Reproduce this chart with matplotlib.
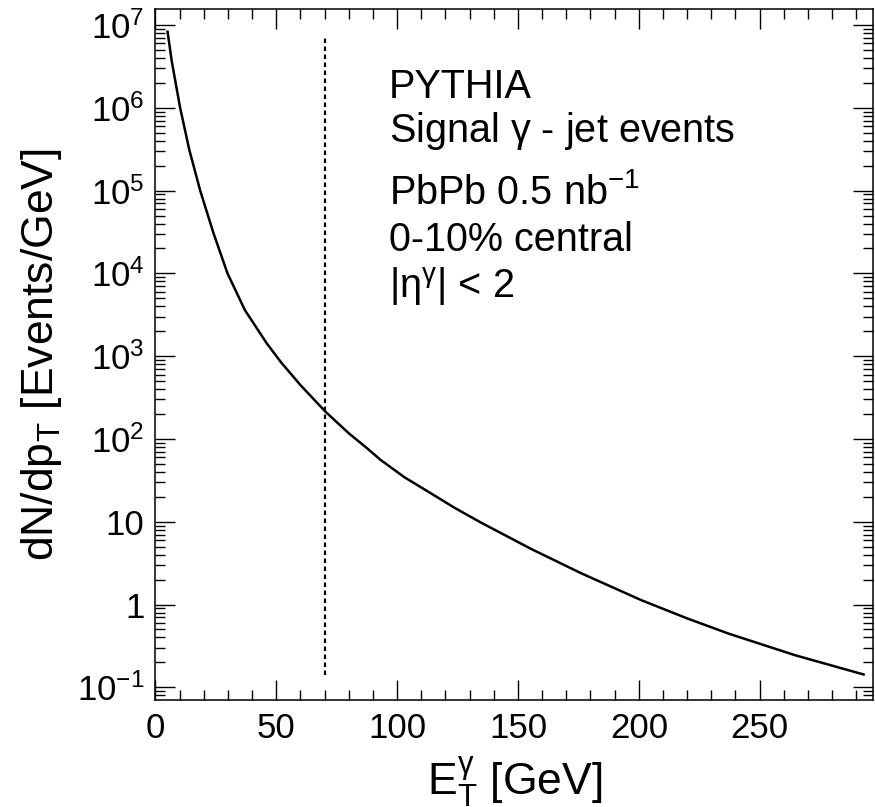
import matplotlib
matplotlib.use("Agg")
import matplotlib.pyplot as plt
from matplotlib.ticker import FixedLocator, FixedFormatter, LogLocator, MultipleLocator, NullFormatter

plt.rcParams["font.family"] = ["Liberation Sans", "DejaVu Sans"]
plt.rcParams["mathtext.fontset"] = "custom"
plt.rcParams["mathtext.rm"] = "Liberation Sans"
plt.rcParams["mathtext.it"] = "Liberation Sans:italic"
plt.rcParams["mathtext.bf"] = "Liberation Sans:bold"

# spectrum (E_T in GeV, dN/dpT in events/GeV)
et = [5, 6.7, 10.2, 14, 18.5, 24, 29.8, 37, 46.1, 52, 60.0, 70.3, 80,
      87.6, 93.2, 103, 113.9, 124, 134.6, 155.4, 176.1, 201, 220, 237, 264.7, 293]
dndpt = [8.3e6, 3.7e6, 1.0e6, 3.1e5, 1.0e5, 3.06e4, 1.0e4, 3.6e3, 1.42e3, 840,
         447, 214, 117, 77, 55.7, 34.5, 22.1, 14.6, 9.8, 4.7, 2.39, 1.13, 0.68,
         0.447, 0.244, 0.143]

et_cut = 70
cut_ylim = [0.14, 7.6e6]

ytick_vals = [1e-1, 1, 10, 1e2, 1e3, 1e4, 1e5, 1e6, 1e7]
ytick_labels = [r"$\mathdefault{10^{-1}}$", "1", "10", r"$\mathdefault{10^{2}}$",
                r"$\mathdefault{10^{3}}$", r"$\mathdefault{10^{4}}$",
                r"$\mathdefault{10^{5}}$", r"$\mathdefault{10^{6}}$",
                r"$\mathdefault{10^{7}}$"]

notes = ["PYTHIA", r"Signal $\mathrm{\gamma}$ - jet events", r"PbPb 0.5 nb$^{-1}$",
         "0-10% central", r"$|\mathrm{\eta}^{\mathrm{\gamma}}|$ < 2"]
note_y = [0.8716, 0.8079, 0.7178, 0.6502, 0.5822]

fig = plt.figure(figsize=(8.75, 8.07), dpi=100)
ax = fig.add_axes([0.1777, 0.1326, 0.998 - 0.1777, 0.9888 - 0.1326])

ax.plot(et, dndpt, color="black", lw=1.8)
ax.plot([et_cut, et_cut], cut_ylim, color="black", lw=1.6, dashes=(2.0, 1.6))

ax.set_yscale("log")
ax.set_xlim(0, 297)
ax.set_ylim(0.0703, 1.56e7)

ax.xaxis.set_major_locator(MultipleLocator(50))
ax.xaxis.set_minor_locator(MultipleLocator(10))
ax.yaxis.set_major_locator(FixedLocator(ytick_vals))
ax.yaxis.set_major_formatter(FixedFormatter(ytick_labels))
ax.yaxis.set_minor_locator(LogLocator(base=10, subs=range(2, 10), numticks=20))
ax.yaxis.set_minor_formatter(NullFormatter())

ax.tick_params(which="both", direction="in", top=True, right=True, width=1.0)
ax.tick_params(which="major", length=14.5, labelsize=25)
ax.tick_params(which="minor", length=7.2)
ax.tick_params(axis="x", which="major", pad=9)
ax.tick_params(axis="y", which="major", pad=8)
for s in ax.spines.values():
    s.set_linewidth(1.1)

ax.set_xlabel(r"$\mathrm{E}_{\mathrm{T}}^{\mathrm{\gamma}}$ [GeV]", fontsize=32, labelpad=6)
ax.set_ylabel(r"dN/dp$_{\mathrm{T}}$ [Events/GeV]", fontsize=32, labelpad=9)

for txt, y in zip(notes, note_y):
    ax.text(0.3254, y, txt, transform=ax.transAxes, fontsize=28.5, va="baseline", ha="left")

fig.savefig("out.png", dpi=100)
